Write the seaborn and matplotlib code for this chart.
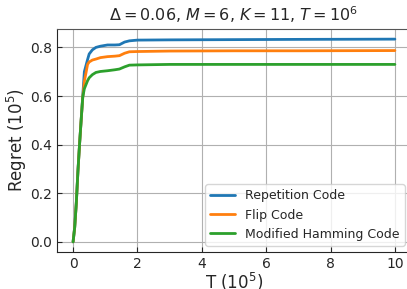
import numpy as np
import pandas as pd
import matplotlib
matplotlib.use('Agg')
import matplotlib.pyplot as plt
import seaborn as sns

# T in units of 1e5, regret in units of 1e5
t = [0.0, 0.05, 0.1, 0.15, 0.2, 0.25, 0.3, 0.35, 0.45, 0.5, 0.6, 0.71, 0.85, 1.07, 1.3, 1.44, 1.6, 1.75, 2.0, 3.0, 5.0, 7.0, 10.0]
repetition = [0.0, 0.06, 0.16, 0.29, 0.40, 0.50, 0.60, 0.70, 0.75, 0.773, 0.79, 0.80, 0.805, 0.81, 0.81, 0.811, 0.822, 0.827, 0.83, 0.831, 0.832, 0.833, 0.834]
flip = [0.0, 0.06, 0.16, 0.29, 0.40, 0.50, 0.595, 0.66, 0.73, 0.74, 0.748, 0.752, 0.758, 0.762, 0.764, 0.766, 0.776, 0.782, 0.783, 0.785, 0.786, 0.786, 0.787]
hamming = [0.0, 0.06, 0.16, 0.29, 0.40, 0.50, 0.595, 0.63, 0.663, 0.675, 0.688, 0.697, 0.701, 0.704, 0.708, 0.711, 0.72, 0.727, 0.728, 0.73, 0.73, 0.73, 0.73]
labels = ['Repetition Code', 'Flip Code', 'Modified Hamming Code']

df = pd.concat([
    pd.DataFrame({'T': t, 'Regret': repetition, 'Algorithm': labels[0]}),
    pd.DataFrame({'T': t, 'Regret': flip, 'Algorithm': labels[1]}),
    pd.DataFrame({'T': t, 'Regret': hamming, 'Algorithm': labels[2]}),
])

sns.set_style('ticks', {'axes.grid': True, 'grid.color': '#b0b0b0',
                        'xtick.direction': 'in', 'ytick.direction': 'in'})
plt.rcParams['font.family'] = ['DejaVu Sans']

fig = plt.figure(figsize=(4.07, 2.89), dpi=100)
ax = fig.add_axes([57 / 407, 37 / 289, 354 / 407, 223 / 289])
sns.lineplot(data=df, x='T', y='Regret', hue='Algorithm', hue_order=labels,
             palette=['#1f77b4', '#ff7f0e', '#2ca02c'], linewidth=2, ax=ax)

ax.set_title(r'$\Delta = 0.06$, $M = 6$, $K = 11$, $T = 10^6$', fontsize=11.5)
ax.set_xlabel(r'T ($10^5$)', fontsize=12, labelpad=0)
ax.set_ylabel(r'Regret ($10^5$)', fontsize=12, labelpad=1)
ax.set_xticks([0, 2, 4, 6, 8, 10])
ax.set_yticks([0.0, 0.2, 0.4, 0.6, 0.8])
ax.tick_params(labelsize=10, direction='in')
ax.spines['top'].set_color('#555555')
ax.margins(x=0.05, y=0.05)
ax.legend(loc='lower right', fontsize=9, title=None)

fig.savefig('out.png', dpi=100)
